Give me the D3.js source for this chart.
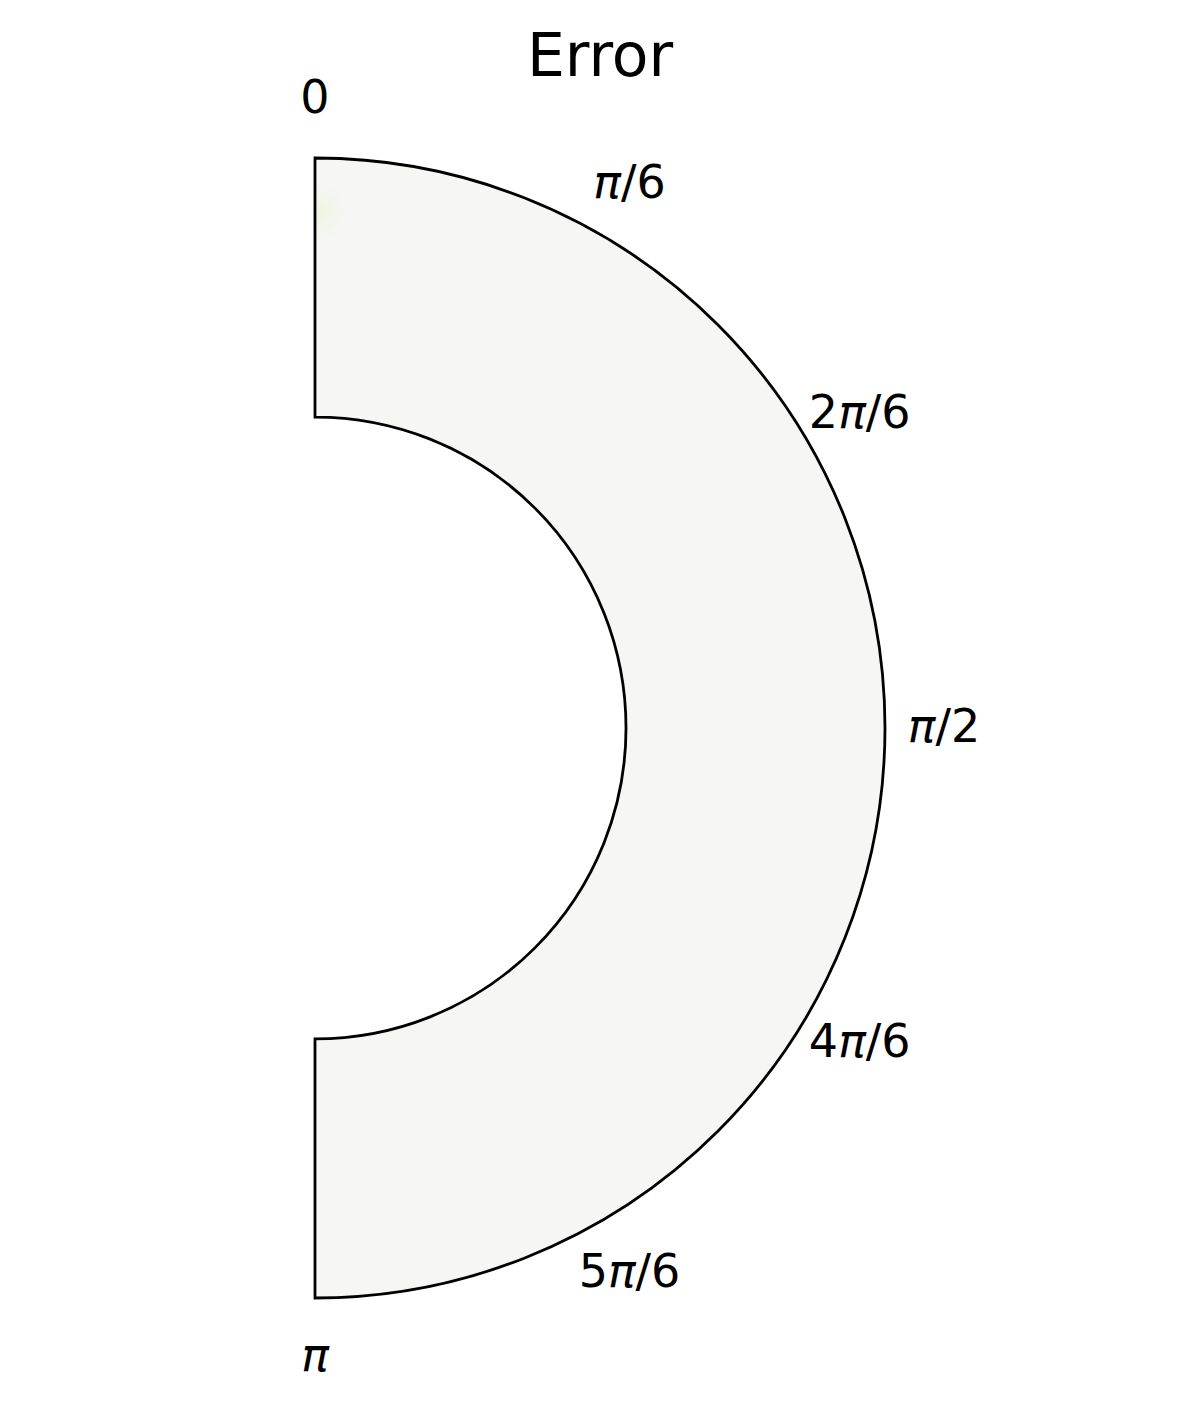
<!DOCTYPE html>
<html>
<head>
<meta charset="utf-8">
<script src="https://cdn.jsdelivr.net/npm/d3@7"></script>
<style>
  html, body { margin: 0; padding: 0; background: #fff; }
  svg { display: block; }
  text { font-family: "DejaVu Sans", sans-serif; fill: #000; }
</style>
</head>
<body>
<svg id="chart" width="1200" height="1410"></svg>
<script>
// ---- data ----
const title = "Error";
const thetaLimits = [0, Math.PI];            // radians
const radiusLimits = [0, 1];                  // radial data range
const radialOrigin = -1.2;                    // inner hole (data units)
const tickAngles = [0, Math.PI/6, 2*Math.PI/6, Math.PI/2, 4*Math.PI/6, 5*Math.PI/6, Math.PI];
const tickLabels = [
  [{t:"0", i:false}],
  [{t:"π", i:true},{t:"/6", i:false}],
  [{t:"2", i:false},{t:"π", i:true},{t:"/6", i:false}],
  [{t:"π", i:true},{t:"/2", i:false}],
  [{t:"4", i:false},{t:"π", i:true},{t:"/6", i:false}],
  [{t:"5", i:false},{t:"π", i:true},{t:"/6", i:false}],
  [{t:"π", i:true}]
];
const fillColor = "#f6f6f5";

// ---- layout ----
const cx = 315, cy = 728;
const svg = d3.select("#chart");
const rScale = d3.scaleLinear().domain([radialOrigin, radiusLimits[1]]).range([0, 570]);
const aScale = d3.scaleLinear().domain(thetaLimits).range([0, Math.PI]);

const g = svg.append("g").attr("transform", `translate(${cx},${cy})`);

const defs = svg.append("defs");
const grad = defs.append("radialGradient").attr("id", "spot")
  .attr("gradientUnits", "userSpaceOnUse")
  .attr("cx", 5).attr("cy", -516).attr("r", 30);
grad.append("stop").attr("offset", "0%").attr("stop-color", "#e6f5d0").attr("stop-opacity", 0.5);
grad.append("stop").attr("offset", "100%").attr("stop-color", "#e6f5d0").attr("stop-opacity", 0);

const arc = d3.arc()
  .innerRadius(rScale(radiusLimits[0]))
  .outerRadius(rScale(radiusLimits[1]))
  .startAngle(aScale(thetaLimits[0]))
  .endAngle(aScale(thetaLimits[1]));

g.append("path").attr("d", arc()).attr("fill", fillColor);
g.append("path").attr("d", arc()).attr("fill", "url(#spot)");
g.append("path").attr("d", arc())
  .attr("fill", "none").attr("stroke", "#000").attr("stroke-width", 2.8)
  .attr("stroke-linejoin", "miter");

// tick labels
const labelR = 629;
tickAngles.forEach((a, i) => {
  const ang = aScale(a);
  const x = labelR * Math.sin(ang);
  const y = -labelR * Math.cos(ang);
  const t = g.append("text")
    .attr("x", x).attr("y", y).attr("dy", "0.31em")
    .attr("text-anchor", "middle")
    .attr("font-size", 46);
  tickLabels[i].forEach(p => {
    t.append("tspan").text(p.t).attr("font-style", p.i ? "italic" : "normal");
  });
});

// title
svg.append("text").attr("x", 600).attr("y", 76)
  .attr("text-anchor", "middle").attr("font-size", 60).text(title);
</script>
</body>
</html>
